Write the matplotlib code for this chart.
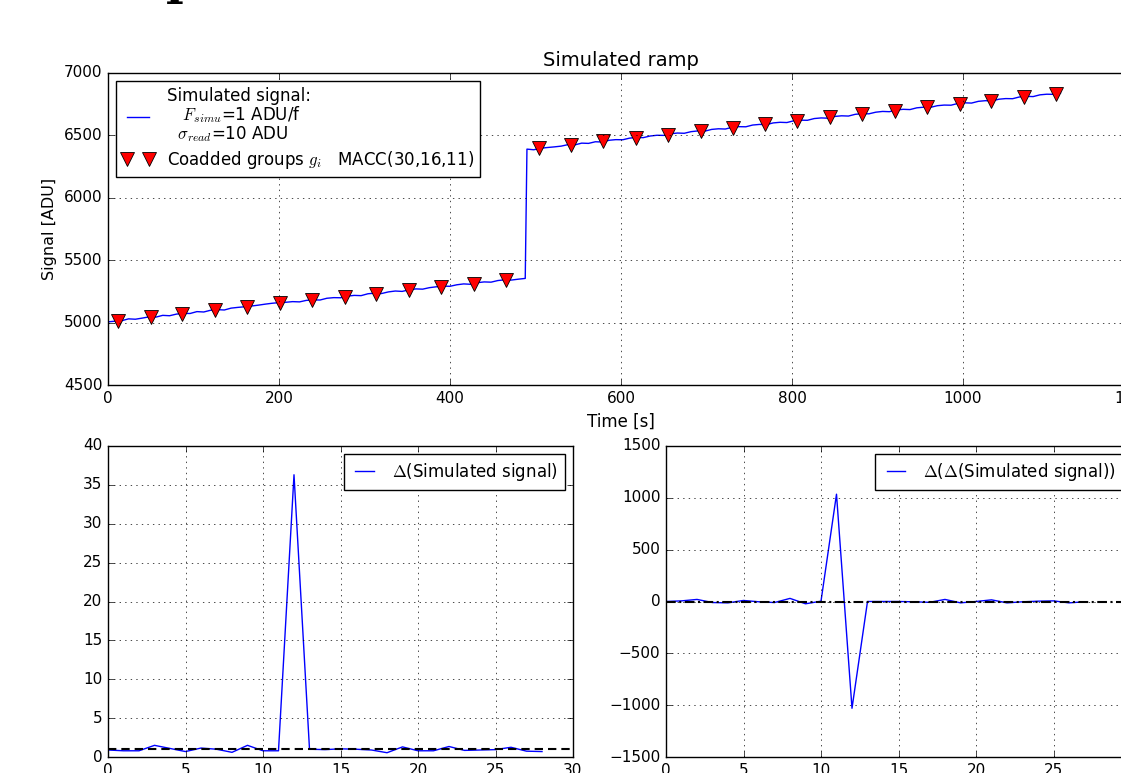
import numpy as np
import matplotlib
matplotlib.use('Agg')
import matplotlib.pyplot as plt

# simulated ramp, sampled every 8 s, before and after the jump
sig_lo = [5006, 5011, 5015, 5030, 5027, 5036, 5046, 5044, 5058, 5055,
          5068, 5074, 5073, 5088, 5085, 5099, 5104, 5101, 5116, 5122,
          5127, 5133, 5140, 5148, 5155, 5160, 5163, 5168, 5166, 5178,
          5182, 5181, 5195, 5200, 5199, 5212, 5218, 5216, 5231, 5236,
          5233, 5246, 5253, 5250, 5262, 5270, 5268, 5280, 5287, 5292,
          5291, 5303, 5310, 5307, 5320, 5326, 5324, 5337, 5343, 5341,
          5348, 5354]
sig_hi = [6390, 6385, 6397, 6403, 6408, 6414, 6426, 6424, 6438, 6436,
          6449, 6447, 6461, 6466, 6465, 6478, 6484, 6482, 6495, 6501,
          6500, 6513, 6519, 6517, 6530, 6536, 6534, 6548, 6553, 6551,
          6565, 6570, 6569, 6583, 6588, 6586, 6600, 6605, 6603, 6617,
          6622, 6621, 6635, 6640, 6638, 6652, 6657, 6655, 6669, 6674,
          6673, 6686, 6692, 6690, 6704, 6709, 6707, 6721, 6726, 6725,
          6738, 6743, 6742, 6756, 6761, 6759, 6773, 6778, 6777, 6790,
          6795, 6794, 6808, 6813, 6811, 6825, 6830, 6829, 6840]
t_lo = 8 * np.arange(len(sig_lo))
t_hi = 490 + 8 * np.arange(len(sig_hi))

# coadded groups MACC(30,16,11)
t_groups = [12, 50, 87, 125, 163, 201, 239, 277, 314, 352, 390, 428, 466,
            504, 541, 579, 617, 655, 693, 731, 769, 806, 844, 882, 920,
            958, 996, 1033, 1071, 1109]
g_groups = [5016, 5042, 5071, 5097, 5124, 5158, 5178, 5206, 5232, 5258,
            5288, 5313, 5340, 6398, 6424, 6452, 6481, 6507, 6533, 6563,
            6589, 6615, 6644, 6671, 6697, 6726, 6753, 6779, 6808, 6835]

d1 = [0.9, 0.8, 0.8, 1.5, 1.1, 0.7, 1.15, 1.0, 0.6, 1.5, 0.8, 0.8, 36.3,
      1.0, 0.95, 1.05, 1.0, 0.9, 0.55, 1.3, 0.8, 0.8, 1.35, 0.85, 0.9,
      0.95, 1.25, 0.75, 0.7]
d2 = [0, 6, 20, -10, -13, 10, -3, -10, 30, -22, 3, 1035, -1030, 0, 0, 0,
      -3, -8, 20, -13, 0, 16, -13, -3, 3, 6, -13, -3]

plt.style.use('classic')
plt.rcParams['font.family'] = ['DejaVu Sans']
plt.rcParams['mathtext.fontset'] = 'cm'
plt.rcParams['xtick.labelsize'] = 11
plt.rcParams['ytick.labelsize'] = 11
plt.rcParams['legend.fontsize'] = 12
plt.rcParams['lines.scale_dashes'] = False

W, H = 1121, 773
fig = plt.figure(figsize=(W / 100, H / 100), dpi=100, facecolor='white')

def px_axes(left, top, right, bottom):
    return fig.add_axes([left / W, 1 - bottom / H, (right - left) / W, (bottom - top) / H])

# top panel
ax = px_axes(108, 73, 1134, 385)
t_sig = np.concatenate([t_lo, t_hi])
s_sig = np.concatenate([sig_lo, sig_hi])
ax.plot(t_sig, s_sig, 'b-', lw=1,
        label='Simulated signal:\n   $F_{simu}$=1 ADU/f\n  $\\sigma_{read}$=10 ADU')
ax.plot(t_groups, g_groups, 'v', color='red', mec='k', mew=0.6, ms=10,
        label='Coadded groups $g_i$   MACC(30,16,11)')
ax.set_xlim(0, 1200)
ax.set_ylim(4500, 7000)
ax.set_yticks(np.arange(4500, 7001, 500))
ax.set_title('Simulated ramp', fontsize=14)
ax.set_xlabel('Time [s]', fontsize=12)
ax.set_ylabel('Signal [ADU]', fontsize=11.5)
ax.grid(True)
leg = ax.legend(loc='upper left', numpoints=2, handlelength=1.9,
                labelspacing=0.3, borderpad=0.35)
for txt in leg.get_texts():
    txt.set_linespacing(0.95)

# bottom left: first difference
ax1 = px_axes(108, 446, 573, 757)
ax1.plot(np.arange(len(d1)), d1, 'b-', lw=1, label='$\\Delta$(Simulated signal)')
ax1.axhline(1, color='k', ls=(0, (6, 3.6)), lw=1.5)
ax1.set_xlim(0, 30)
ax1.set_ylim(0, 40)
ax1.grid(True)
ax1.legend(loc='upper right', handlelength=1.7)

# bottom right: second difference
ax2 = px_axes(666, 446, 1131, 757)
ax2.plot(np.arange(len(d2)), d2, 'b-', lw=1, label='$\\Delta$($\\Delta$(Simulated signal))')
ax2.axhline(0, color='k', ls=(0, (7, 2.5, 1.5, 2.5)), lw=1.5)
ax2.set_xlim(0, 30)
ax2.set_ylim(-1500, 1500)
ax2.set_yticks(np.arange(-1500, 1501, 500))
ax2.grid(True)
ax2.legend(loc='upper right', handlelength=1.7)

# bottom of a heading letter above the figure
fig.text(166 / W, 1.0075, 'p', fontsize=34, family='DejaVu Serif',
         fontweight='bold', va='baseline')

fig.savefig('out.png', dpi=100, facecolor='white')
